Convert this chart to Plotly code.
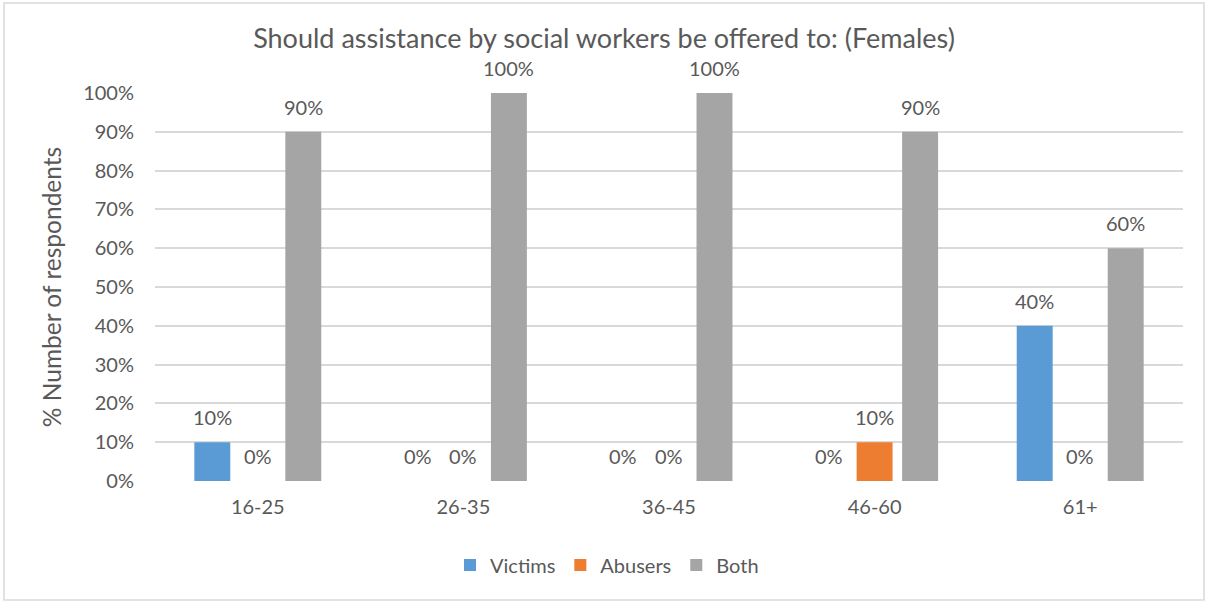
import plotly.graph_objects as go

categories = ["16-25", "26-35", "36-45", "46-60", "61+"]
victims = [0.10, 0.0, 0.0, 0.0, 0.40]
abusers = [0.0, 0.0, 0.0, 0.10, 0.0]
both = [0.90, 1.00, 1.00, 0.90, 0.60]
series = [("Victims", victims, "#5B9BD5"), ("Abusers", abusers, "#ED7D31"), ("Both", both, "#A5A5A5")]
y_ticks = [i / 10 for i in range(11)]

W, H = 1208, 603
ML, MR, MT, MB = 155, 25, 93, 122
BARGAP, GROUPGAP = 0.336, 0.21
FONT = "Lato"
TXT = "#595959"

fig = go.Figure()
for name, vals, col in series:
    fig.add_trace(go.Bar(x=categories, y=vals, name=name, marker_color=col,
                         marker_line_width=0, cliponaxis=False))

plot_w = W - ML - MR
step = plot_w / len(categories) * (1 - BARGAP) / len(series)
for i, (name, vals, col) in enumerate(series):
    for c, v in zip(categories, vals):
        fig.add_annotation(x=c, y=v, text=f"{v:.0%}", showarrow=False,
                           xshift=(i - 1) * step, yshift=12, yanchor="bottom",
                           borderpad=0,
                           font=dict(family=FONT, size=20, color=TXT))

plot_h = H - MT - MB
fig.add_shape(type="rect", xref="paper", yref="paper",
              x0=(4 - ML) / plot_w, x1=(1204 - ML) / plot_w,
              y0=-(600 - (H - MB)) / plot_h, y1=((H - MB) - 3) / plot_h,
              line=dict(color="#D9D9D9", width=1.5), layer="below")

fig.update_layout(
    width=W, height=H,
    margin=dict(l=ML, r=MR, t=MT, b=MB),
    paper_bgcolor="white", plot_bgcolor="white",
    barmode="group", bargap=BARGAP, bargroupgap=GROUPGAP,
    title=dict(text="Should assistance by social workers be offered to: (Females)",
               x=0.5, xref="container", xanchor="center", y=1 - 39 / H, yanchor="middle",
               font=dict(family=FONT, size=27, color=TXT)),
    font=dict(family=FONT, color=TXT),
    legend=dict(orientation="h", x=(607 - ML) / plot_w, xanchor="center",
                y=-(565 - (H - MB)) / plot_h, yanchor="middle",
                font=dict(family=FONT, size=20, color=TXT), traceorder="normal"),
    xaxis=dict(showgrid=False, showline=False, ticks="", ticklabelstandoff=12,
               tickfont=dict(family=FONT, size=20, color=TXT)),
    yaxis=dict(range=[0, 1], tickvals=y_ticks, tickformat=".0%", showgrid=True,
               gridcolor="#D9D9D9", gridwidth=1.5, zeroline=False, showline=False,
               ticklabelstandoff=20,
               tickfont=dict(family=FONT, size=20, color=TXT),
               title=dict(text="% Number of respondents", standoff=14,
                          font=dict(family=FONT, size=24.5, color=TXT))),
)

fig.write_html("out.html", config={"displayModeBar": False},
               post_script="document.body.style.margin='0';")
